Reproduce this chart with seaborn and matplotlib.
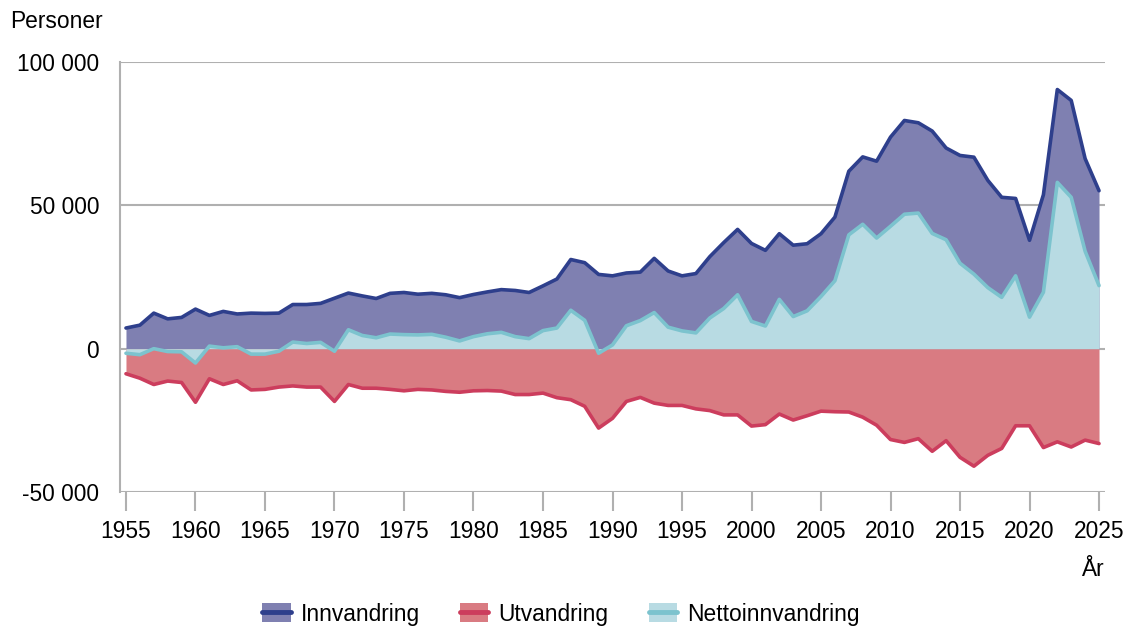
import numpy as np
import pandas as pd
import matplotlib
matplotlib.use("Agg")
import matplotlib.pyplot as plt
import seaborn as sns
from matplotlib.patches import Patch
from matplotlib.lines import Line2D
from matplotlib.legend_handler import HandlerTuple

years = list(range(1955, 2026))

innvandring = [7200, 8200, 12400, 10400, 10900, 13800, 11600, 13000, 12100, 12400,
               12300, 12400, 15400, 15400, 15800, 17600, 19400, 18400, 17500, 19300,
               19600, 19000, 19300, 18800, 17800, 18900, 19800, 20600, 20300, 19600,
               21900, 24300, 31100, 30000, 25900, 25400, 26400, 26700, 31500, 27100,
               25400, 26200, 32100, 37000, 41600, 36700, 34300, 40100, 36100, 36600,
               40100, 45900, 61900, 66900, 65400, 73800, 79600, 78800, 75900, 70000,
               67400, 66800, 58700, 52800, 52400, 37800, 53700, 90400, 86600, 66300,
               55100]

utvandring = [-8750, -10300, -12500, -11300, -11800, -18700, -10500, -12500, -11200, -14400,
              -14200, -13400, -13000, -13400, -13400, -18400, -12500, -13800, -13800, -14200,
              -14700, -14200, -14400, -14900, -15200, -14700, -14600, -14800, -16000, -16000,
              -15500, -17100, -17800, -20100, -27700, -24300, -18400, -17000, -19000, -19800,
              -19800, -21000, -21600, -23100, -23100, -27000, -26500, -22800, -24900, -23400,
              -21800, -22000, -22100, -23900, -26700, -31700, -32700, -31400, -35800, -32100,
              -37900, -41000, -37200, -34800, -26900, -26900, -34500, -32500, -34300, -31900,
              -33100]

netto = [-1600, -2100, 0, -1000, -1100, -5000, 900, 300, 700, -1900,
         -1900, -900, 2300, 1800, 2200, -900, 6600, 4600, 3800, 5100,
         4900, 4800, 5000, 4000, 2700, 4200, 5200, 5700, 4200, 3500,
         6300, 7200, 13400, 9900, -1600, 1300, 8000, 9800, 12600, 7500,
         6200, 5500, 10700, 14000, 18800, 9500, 7900, 17200, 11200, 13200,
         18200, 23700, 39700, 43400, 38600, 42700, 46900, 47300, 40200, 38000,
         29800, 26000, 21300, 17900, 25400, 11000, 19700, 58000, 52800, 34000,
         22000]

series = ["Innvandring", "Utvandring", "Nettoinnvandring"]
line_colors = ["#2e3f8c", "#cc3d5d", "#7cc3ce"]
fill_colors = ["#7f80b1", "#d97b82", "#b8dbe3"]

df = pd.DataFrame({"År": years, "Innvandring": innvandring,
                   "Utvandring": utvandring, "Nettoinnvandring": netto})
long = df.melt(id_vars="År", var_name="serie", value_name="Personer")

sns.set_theme(style="white")
plt.rcParams["font.family"] = ["Liberation Sans", "DejaVu Sans"]
plt.rcParams["text.color"] = "black"
plt.rcParams["xtick.labelcolor"] = "black"
plt.rcParams["ytick.labelcolor"] = "black"

fig = plt.figure(figsize=(11.28, 6.26), dpi=100)
ax = fig.add_axes([120 / 1128, 1 - 492 / 626, 985 / 1128, 430 / 626])

gray = "#b0b0b0"
for yv in [100000, 50000, 0, -50000]:
    ax.axhline(yv, color=gray, lw=1.5, zorder=0)

# flater: innvandring og utvandring fra null, netto oppå
ax.fill_between(df["År"], 0, df["Innvandring"], color=fill_colors[0], lw=0, zorder=1)
ax.fill_between(df["År"], 0, df["Utvandring"], color=fill_colors[1], lw=0, zorder=1)
ax.fill_between(df["År"], 0, df["Nettoinnvandring"], color=fill_colors[2], lw=0, zorder=2)

sns.lineplot(data=long, x="År", y="Personer", hue="serie", hue_order=series,
             palette=line_colors, linewidth=2.6, ax=ax, legend=False, zorder=3)

ax.set_xlim(1954.57, 2025.43)
ax.set_ylim(-50000, 100000)
ax.set_xticks(range(1955, 2026, 5))
ax.set_yticks([-50000, 0, 50000, 100000])
ax.set_yticklabels(["-50 000", "0", "50 000", "100 000"])
ax.tick_params(axis="y", length=11, width=1.5, color=gray, labelsize=16.4, pad=4,
               labelcolor="black")
ax.tick_params(axis="x", length=14, width=1.5, color=gray, labelsize=16.4, pad=6,
               bottom=True, labelcolor="black")
ax.set_xlabel("")
ax.set_ylabel("")
for s in ["top", "right", "bottom"]:
    ax.spines[s].set_visible(False)
ax.spines["left"].set_color(gray)
ax.spines["left"].set_linewidth(1.5)

fig.text(10 / 1128, 1 - 22 / 626, "Personer", fontsize=16.4, va="center", ha="left")
fig.text(1104 / 1128, 1 - 570 / 626, "År", fontsize=16.4, va="center", ha="right")

handles = [(Patch(facecolor=fc, edgecolor="none"),
            Line2D([], [], color=lc, lw=3.5, solid_capstyle="round"))
           for fc, lc in zip(fill_colors, line_colors)]
fig.legend(handles, series, loc="center", bbox_to_anchor=(561 / 1128, 1 - 614 / 626),
           ncol=3, frameon=False, fontsize=16.4, handler_map={tuple: HandlerTuple(ndivide=1)},
           handlelength=1.25, handleheight=0.9, columnspacing=1.75, handletextpad=0.45)

fig.savefig("out.png", dpi=100)
